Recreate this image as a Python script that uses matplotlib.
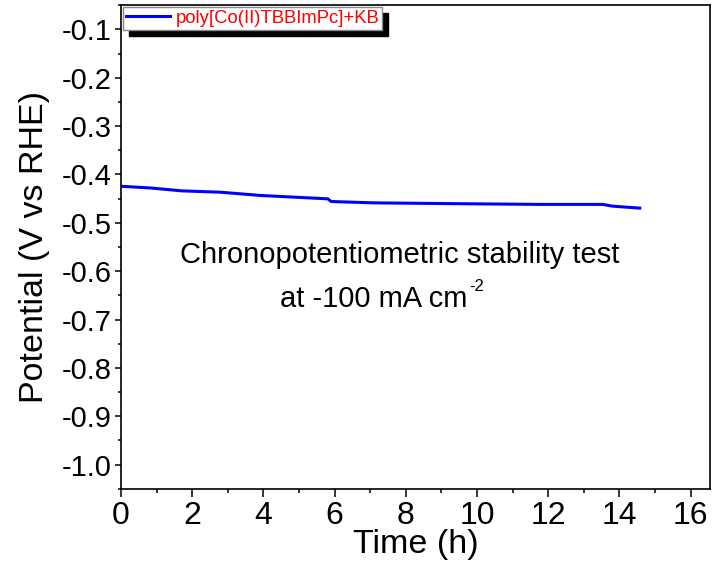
import matplotlib
matplotlib.use("Agg")
import matplotlib.pyplot as plt
from matplotlib.patches import Shadow
from matplotlib.ticker import MultipleLocator

plt.rcParams["font.family"] = ["Liberation Sans", "DejaVu Sans"]

# potential vs time
time_h = [0.0, 0.82, 1.71, 2.8, 3.93, 5.81, 5.9, 7.03, 7.32, 9.86, 11.74, 13.53, 13.8, 14.57]
potential = [-0.4245, -0.428, -0.434, -0.4368, -0.4436, -0.4505, -0.456, -0.4587,
             -0.4590, -0.4608, -0.462, -0.462, -0.4656, -0.4697]
series_label = "poly[Co(II)TBBImPc]+KB"
x_ticks = list(range(0, 17, 2))
y_ticks = [-1.0, -0.9, -0.8, -0.7, -0.6, -0.5, -0.4, -0.3, -0.2, -0.1]

fig = plt.figure(figsize=(7.16, 5.71), dpi=100)
ax = fig.add_axes([0.169, 0.144, 0.823, 0.847])

ax.plot(time_h, potential, color="#0000ff", lw=2.2, label=series_label)

ax.set_xlim(0, 16.55)
ax.set_ylim(-1.05, -0.05)
ax.set_xticks(x_ticks)
ax.set_yticks(y_ticks)
ax.set_yticklabels([f"{v:.1f}" for v in y_ticks])
ax.xaxis.set_minor_locator(MultipleLocator(1))
ax.yaxis.set_minor_locator(MultipleLocator(0.05))
ax.tick_params(which="both", direction="out", top=False, right=False, width=1.1)
ax.tick_params(axis="x", which="major", length=5.5, labelsize=23, pad=3)
ax.tick_params(axis="x", which="minor", length=3)
ax.tick_params(axis="y", which="major", length=4.5, labelsize=21, pad=2)
ax.tick_params(axis="y", which="minor", length=2.5)
for s in ax.spines.values():
    s.set_linewidth(1.2)

ax.set_xlabel("Time (h)", fontsize=24.5)
ax.xaxis.label.set_va("center")
ax.xaxis.set_label_coords(0.5, -0.116)
ax.set_ylabel("Potential (V vs RHE)", fontsize=24.5)
ax.yaxis.label.set_va("center")
ax.yaxis.set_label_coords(-0.146, 0.5)

ax.text(0.4737, 0.467, "Chronopotentiometric stability test", transform=ax.transAxes,
        fontsize=21, ha="center", va="baseline")
note = ax.text(0.27, 0.376, "at -100 mA cm", transform=ax.transAxes,
               fontsize=21, ha="left", va="baseline")
ax.annotate("-2", xy=(1.0, 1.0), xycoords=note, xytext=(1.5, 4), textcoords="offset points",
            fontsize=12, ha="left", va="top")

leg = ax.legend(loc="upper left", bbox_to_anchor=(0.003, 0.996), fontsize=13.3,
                frameon=True, fancybox=False, edgecolor="#888888", framealpha=1,
                handlelength=2.4, handletextpad=0.3, borderpad=0.15, borderaxespad=0.0)
for t in leg.get_texts():
    t.set_color("#ff0000")

fig.canvas.draw()
sh = Shadow(leg.legendPatch, 4.5, -4.5, color="black", alpha=1)
sh.set_zorder(4.9)
ax.add_artist(sh)

fig.savefig("out.png", dpi=100)
